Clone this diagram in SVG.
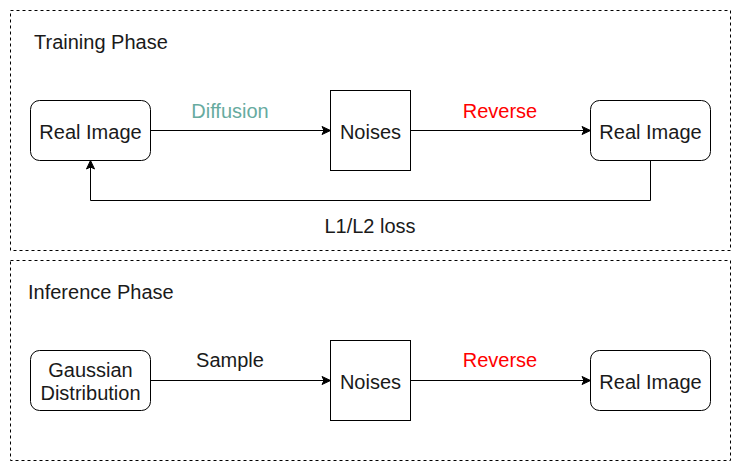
<svg xmlns="http://www.w3.org/2000/svg" width="741" height="471" viewBox="0 0 741 471">
<style>
.frame{fill:none;stroke:#000;stroke-width:1;stroke-dasharray:3 3}
.node{fill:#fff;stroke:#000;stroke-width:1}
.t{font-family:"Liberation Sans",Arial,sans-serif;font-size:20px;fill:#1a1a1a}
.c{text-anchor:middle}
.edge{fill:none;stroke:#000;stroke-width:1}
</style>
<defs>
<marker id="arr" markerUnits="userSpaceOnUse" markerWidth="12" markerHeight="12" viewBox="0 0 12 12" refX="10" refY="6" orient="auto">
<path d="M1.5,2 L10,6 L1.5,10 L3.5,6 Z" fill="#000" stroke="#000" stroke-width="1"/>
</marker>
</defs>
<rect width="741" height="471" fill="#fff"/>
<g id="training-phase">
<rect class="frame" x="10.5" y="10.5" width="720" height="240"/>
<text class="t" x="34" y="48.5">Training Phase</text>
</g>
<g id="inference-phase">
<rect class="frame" x="10.5" y="260.5" width="720" height="200"/>
<text class="t" x="28" y="298.5">Inference Phase</text>
</g>
<g id="connectors">
<line class="edge" x1="150.5" y1="130.5" x2="330.5" y2="130.5" marker-end="url(#arr)"/>
<line class="edge" x1="410.5" y1="130.5" x2="590.5" y2="130.5" marker-end="url(#arr)"/>
<polyline class="edge" points="650.5,160.5 650.5,200.5 90.5,200.5 90.5,160.5" marker-end="url(#arr)"/>
<line class="edge" x1="150.5" y1="380.5" x2="330.5" y2="380.5" marker-end="url(#arr)"/>
<line class="edge" x1="410.5" y1="380.5" x2="590.5" y2="380.5" marker-end="url(#arr)"/>
<text class="t c" x="230" y="118" style="fill:#67AB9F">Diffusion</text>
<text class="t c" x="500" y="118" style="fill:#FF0000">Reverse</text>
<text class="t c" x="370" y="233">L1/L2 loss</text>
<text class="t c" x="230" y="367">Sample</text>
<text class="t c" x="500" y="367" style="fill:#FF0000">Reverse</text>
</g>
<g id="real-image-1">
<rect class="node" x="30.5" y="100.5" width="120" height="60" rx="9" ry="9"/>
<text class="t c" x="90.5" y="138.5">Real Image</text>
</g>
<g id="noises-1">
<rect class="node" x="330.5" y="90.5" width="80" height="80"/>
<text class="t c" x="370.5" y="138.5">Noises</text>
</g>
<g id="real-image-2">
<rect class="node" x="590.5" y="100.5" width="120" height="60" rx="9" ry="9"/>
<text class="t c" x="650.5" y="138.5">Real Image</text>
</g>
<g id="gaussian">
<rect class="node" x="30.5" y="350.5" width="120" height="60" rx="9" ry="9"/>
<text class="t c" x="90.5" y="377">Gaussian</text>
<text class="t c" x="90.5" y="400">Distribution</text>
</g>
<g id="noises-2">
<rect class="node" x="330.5" y="340.5" width="80" height="80"/>
<text class="t c" x="370.5" y="388.5">Noises</text>
</g>
<g id="real-image-3">
<rect class="node" x="590.5" y="350.5" width="120" height="60" rx="9" ry="9"/>
<text class="t c" x="650.5" y="388.5">Real Image</text>
</g>
</svg>
